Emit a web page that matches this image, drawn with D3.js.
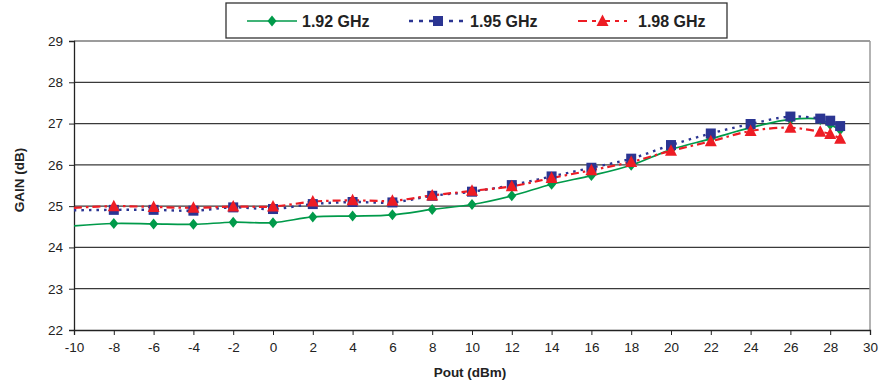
<!DOCTYPE html>
<html>
<head>
<meta charset="utf-8">
<script src="https://cdn.jsdelivr.net/npm/d3@7"></script>
<style>
  html, body { margin: 0; padding: 0; background: #fff; }
  svg { display: block; font-family: "Liberation Sans", Arial, sans-serif; }
</style>
</head>
<body>
<svg id="chart" width="880" height="381"></svg>
<script>
// Output power sweep (dBm)
const pout = [-10, -8, -6, -4, -2, 0, 2, 4, 6, 8, 10, 12, 14, 16, 18, 20, 22, 24, 26, 27.5, 28, 28.5];
// Gain (dB) per frequency
const gain192 = [24.52, 24.58, 24.57, 24.56, 24.61, 24.60, 24.74, 24.76, 24.79, 24.92, 25.04, 25.25, 25.53, 25.74, 25.99, 26.37, 26.63, 26.90, 27.10, 27.10, 26.98, 26.85];
const gain195 = [24.90, 24.91, 24.91, 24.89, 24.97, 24.93, 25.05, 25.10, 25.09, 25.25, 25.35, 25.51, 25.72, 25.93, 26.15, 26.48, 26.76, 26.99, 27.17, 27.12, 27.07, 26.94];
const gain198 = [24.96, 25.00, 24.98, 24.96, 24.99, 24.99, 25.11, 25.14, 25.13, 25.26, 25.37, 25.48, 25.68, 25.87, 26.07, 26.34, 26.57, 26.82, 26.90, 26.80, 26.75, 26.63];
const seriesNames = ["1.92 GHz", "1.95 GHz", "1.98 GHz"];
const xTicks = d3.range(-10, 31, 2);
const yTicks = d3.range(22, 30, 1);

const svg = d3.select("#chart");
const plotL = 74, plotR = 870, plotT = 41, plotB = 330;

const x = d3.scaleLinear().domain([-10, 30]).range([plotL, plotR]);
const y = d3.scaleLinear().domain([22, 29]).range([plotB, plotT]);

// horizontal gridlines
svg.append("g").selectAll("line").data(yTicks.filter(v => v > 22)).join("line")
  .attr("x1", plotL).attr("x2", plotR)
  .attr("y1", d => y(d)).attr("y2", d => y(d))
  .attr("stroke", "#3a3a3a").attr("stroke-width", 1.2);

// right border of plot area
svg.append("line").attr("x1", plotR).attr("x2", plotR).attr("y1", plotT).attr("y2", plotB)
  .attr("stroke", "#9a9a9a").attr("stroke-width", 1.5);

// axes (plain hyphen for negatives)
const fmt = d => String(d);
const yAxis = svg.append("g").attr("transform", `translate(${plotL},0)`)
  .call(d3.axisLeft(y).tickValues(yTicks).tickSize(5).tickPadding(6).tickFormat(fmt));
const xAxis = svg.append("g").attr("transform", `translate(0,${plotB})`)
  .call(d3.axisBottom(x).tickValues(xTicks).tickSize(5).tickPadding(7).tickFormat(fmt));
[yAxis, xAxis].forEach(a => {
  a.select(".domain").attr("stroke", "#222").attr("stroke-width", 1.3);
  a.selectAll(".tick line").attr("stroke", "#222");
  a.selectAll("text").attr("font-size", 13.5).attr("fill", "#222")
    .attr("font-family", "'Liberation Sans', Arial, sans-serif");
});

// axis titles
svg.append("text").attr("x", (plotL + plotR) / 2 - 2).attr("y", 377)
  .attr("text-anchor", "middle").attr("font-size", 13.5).attr("font-weight", "bold").attr("fill", "#222")
  .text("Pout (dBm)");
svg.append("text").attr("transform", `translate(24,180) rotate(-90)`)
  .attr("text-anchor", "middle").attr("font-size", 13.5).attr("font-weight", "bold").attr("fill", "#222")
  .text("GAIN (dB)");

// series styling
const series = [
  { name: seriesNames[0], values: gain192, color: "#009a4a", dash: null, width: 1.7, marker: "diamond", legendDash: null },
  { name: seriesNames[1], values: gain195, color: "#2b3592", dash: "2.5,5", width: 2.4, marker: "square", legendDash: "4,6" },
  { name: seriesNames[2], values: gain198, color: "#ed1c24", dash: "8,4,2.5,4", width: 2.2, marker: "triangle", legendDash: "9,5,4,5" }
];

function markerPath(kind) {
  if (kind === "diamond") return "M0,-5.5L4.5,0L0,5.5L-4.5,0Z";
  if (kind === "square") return "M-5,-5H5V5H-5Z";
  return "M0,-6.5L6,5L-6,5Z";
}

const line = d3.line().curve(d3.curveCatmullRom.alpha(0.5)).x(d => x(d[0])).y(d => y(d[1]));

series.forEach(s => {
  const pts = pout.map((p, i) => [p, s.values[i]]);
  svg.append("path").datum(pts)
    .attr("d", line).attr("fill", "none")
    .attr("stroke", s.color).attr("stroke-width", s.width)
    .attr("stroke-dasharray", s.dash);
});
series.forEach(s => {
  const pts = pout.map((p, i) => [p, s.values[i]]).filter(d => d[0] > -10);
  svg.append("g").selectAll("path").data(pts).join("path")
    .attr("transform", d => `translate(${x(d[0])},${y(d[1])})`)
    .attr("d", markerPath(s.marker))
    .attr("fill", s.color);
});

// legend
const lg = svg.append("g");
lg.append("rect").attr("x", 226).attr("y", 3).attr("width", 501).attr("height", 35)
  .attr("fill", "#fff").attr("stroke", "#333").attr("stroke-width", 1.3);
const legendX = [247, 409, 578];
const legendW = [50, 58, 49];
const legendTextX = [302, 470, 638];
series.forEach((s, i) => {
  const cy = 21;
  lg.append("line").attr("x1", legendX[i]).attr("x2", legendX[i] + legendW[i])
    .attr("y1", cy).attr("y2", cy)
    .attr("stroke", s.color).attr("stroke-width", s.width)
    .attr("stroke-dasharray", s.legendDash);
  lg.append("path").attr("transform", `translate(${legendX[i] + legendW[i] / 2},${cy})`)
    .attr("d", markerPath(s.marker)).attr("fill", s.color);
  lg.append("text").attr("x", legendTextX[i]).attr("y", cy + 6)
    .attr("font-size", 16).attr("font-weight", "bold").attr("fill", "#222")
    .text(s.name);
});
</script>
</body>
</html>
